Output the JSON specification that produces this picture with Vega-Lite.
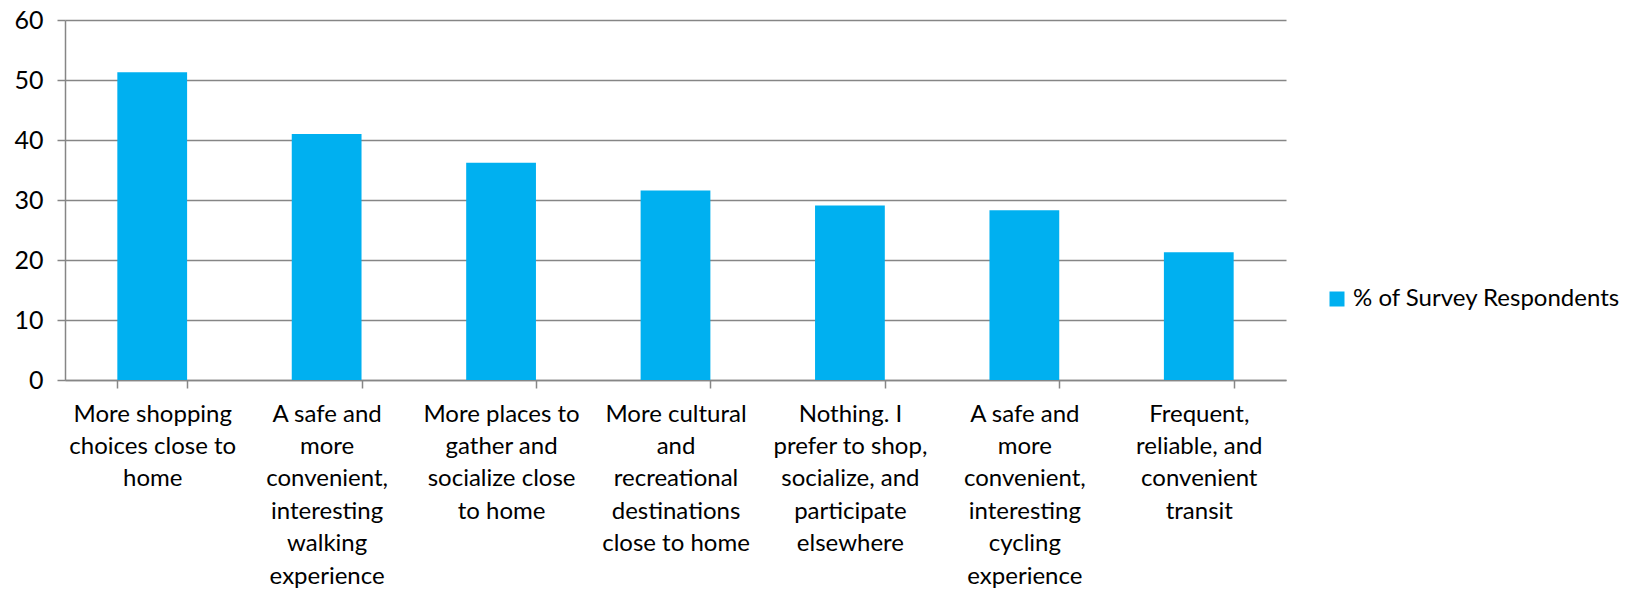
{
  "$schema": "https://vega.github.io/schema/vega-lite/v6.json",
  "width": 1221,
  "height": 360,
  "autosize": {"type": "none"},
  "padding": {"left": 65, "top": 20, "right": 352, "bottom": 209},
  "background": "white",
  "data": {
    "values": [
      {"category": "More shopping\nchoices close to\nhome", "value": 51.3},
      {"category": "A safe and\nmore\nconvenient,\ninteresting\nwalking\nexperience", "value": 41.0},
      {"category": "More places to\ngather and\nsocialize close\nto home", "value": 36.2},
      {"category": "More cultural\nand\nrecreational\ndestinations\nclose to home", "value": 31.6},
      {"category": "Nothing. I\nprefer to shop,\nsocialize, and\nparticipate\nelsewhere", "value": 29.1},
      {"category": "A safe and\nmore\nconvenient,\ninteresting\ncycling\nexperience", "value": 28.3},
      {"category": "Frequent,\nreliable, and\nconvenient\ntransit", "value": 21.3}
    ]
  },
  "mark": {"type": "bar"},
  "encoding": {
    "x": {
      "field": "category",
      "type": "nominal",
      "sort": null,
      "scale": {"paddingInner": 0.6, "paddingOuter": 0.3},
      "axis": {
        "title": null,
        "labelAngle": 0,
        "labelExpr": "split(datum.label, '\\n')",
        "labelFont": "Lato",
        "labelFontSize": 24,
        "labelLineHeight": 32.4,
        "labelColor": "#000000",
        "labelPadding": 14,
        "labelLimit": 0,
        "labelBaseline": "top",
        "tickBand": "extent",
        "tickSize": 8,
        "tickColor": "#868686",
        "tickWidth": 1.5,
        "domainColor": "#868686",
        "domainWidth": 1.5,
        "grid": false
      }
    },
    "y": {
      "field": "value",
      "type": "quantitative",
      "scale": {"domain": [0, 60], "nice": false},
      "axis": {
        "title": null,
        "values": [0, 10, 20, 30, 40, 50, 60],
        "labelFont": "Lato",
        "labelFontSize": 25,
        "labelColor": "#000000",
        "labelPadding": 14,
        "tickSize": 8,
        "tickColor": "#868686",
        "tickWidth": 1.5,
        "domainColor": "#868686",
        "domainWidth": 1.5,
        "grid": true,
        "gridColor": "#868686",
        "gridWidth": 1.5
      }
    },
    "color": {
      "datum": "% of Survey Respondents",
      "type": "nominal",
      "scale": {"range": ["#00B0F0"]},
      "legend": {
        "title": null,
        "orient": "none",
        "legendX": 1260,
        "legendY": 267,
        "symbolType": "square",
        "symbolSize": 225,
        "symbolStrokeWidth": 0,
        "labelFont": "Lato",
        "labelFontSize": 24,
        "labelColor": "#000000",
        "labelOffset": 4,
        "labelLimit": 0
      }
    }
  },
  "config": {
    "view": {"stroke": null}
  }
}
